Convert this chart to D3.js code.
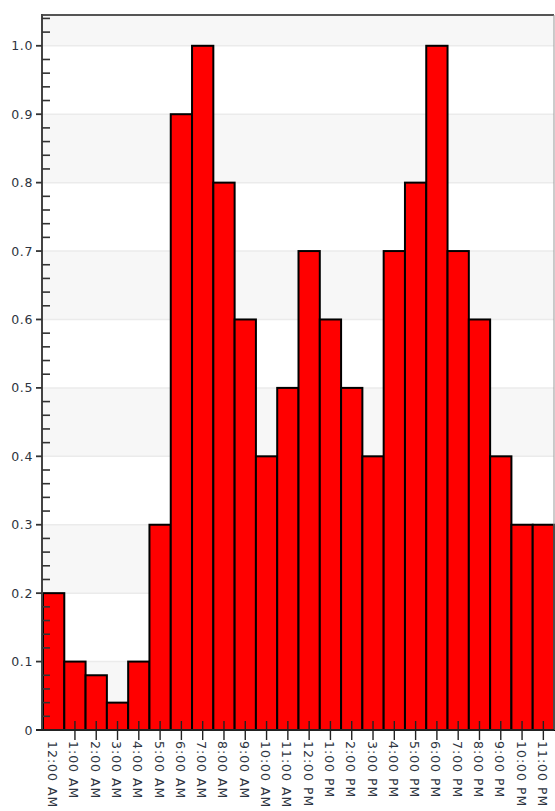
<!DOCTYPE html>
<html><head><meta charset="utf-8">
<script src="https://cdn.jsdelivr.net/npm/d3@7"></script>
<style>body{margin:0;background:#fff}svg{display:block}text{font-family:"DejaVu Sans",Verdana,sans-serif}</style>
</head><body><svg id="c" width="555" height="811"></svg>
<script>
const categories = ["12:00 AM","1:00 AM","2:00 AM","3:00 AM","4:00 AM","5:00 AM","6:00 AM","7:00 AM","8:00 AM","9:00 AM","10:00 AM","11:00 AM","12:00 PM","1:00 PM","2:00 PM","3:00 PM","4:00 PM","5:00 PM","6:00 PM","7:00 PM","8:00 PM","9:00 PM","10:00 PM","11:00 PM"];
const values = [0.2,0.1,0.08,0.04,0.1,0.3,0.9,1.0,0.8,0.6,0.4,0.5,0.7,0.6,0.5,0.4,0.7,0.8,1.0,0.7,0.6,0.4,0.3,0.3];
const yTicks = [0,0.1,0.2,0.3,0.4,0.5,0.6,0.7,0.8,0.9,1.0];
const yTickLabels = ["0","0.1","0.2","0.3","0.4","0.5","0.6","0.7","0.8","0.9","1.0"];

const L=42, R=554, T=15, B=730;
const svg = d3.select("#c");
const x = d3.scaleBand().domain(categories).range([L,R-1]).padding(0);
const y = d3.scaleLinear().domain([0,1.045]).range([B,T]);

// alternating bands
const bandEdges = yTicks.concat([1.045]);
for(let i=0;i<bandEdges.length-1;i++){
  const gray = (i%2===0);
  svg.append("rect").attr("x",L).attr("width",R-L)
    .attr("y",y(bandEdges[i+1])).attr("height",y(bandEdges[i])-y(bandEdges[i+1]))
    .attr("fill",gray?"#f7f7f7":"#ffffff");
}
// gridlines
svg.append("g").selectAll("line").data(yTicks.slice(1)).join("line")
  .attr("x1",L).attr("x2",R).attr("y1",d=>y(d)).attr("y2",d=>y(d))
  .attr("stroke","#ebebeb").attr("stroke-width",1.5);

// bars
svg.append("g").selectAll("rect").data(values).join("rect")
  .attr("x",(d,i)=>x(categories[i])+1).attr("width",x.bandwidth())
  .attr("y",d=>y(d)).attr("height",d=>y(0)-y(d))
  .attr("fill","#ff0000").attr("stroke","#000").attr("stroke-width",2);

// frame
svg.append("line").attr("x1",L).attr("x2",R).attr("y1",T).attr("y2",T).attr("stroke","#555").attr("stroke-width",2);
svg.append("line").attr("x1",R).attr("x2",R).attr("y1",T).attr("y2",B).attr("stroke","#999").attr("stroke-width",1);

// y axis
const yAxis = svg.append("g").attr("transform",`translate(${L},0)`);
yAxis.append("line").attr("x1",0).attr("x2",0).attr("y1",T-1).attr("y2",B).attr("stroke","#444").attr("stroke-width",2);
const minor = d3.range(0,1.045,0.02).filter(v=>Math.abs(Math.round(v*10)-v*10)>1e-6);
yAxis.selectAll("line.minor").data(minor).join("line").attr("class","minor")
  .attr("x1",0).attr("x2",8).attr("y1",d=>y(d)).attr("y2",d=>y(d)).attr("stroke","#333").attr("stroke-width",1.6);
yAxis.selectAll("line.major").data(yTicks).join("line").attr("class","major")
  .attr("x1",-6).attr("x2",0).attr("y1",d=>y(d)).attr("y2",d=>y(d)).attr("stroke","#333").attr("stroke-width",1.8);
yAxis.selectAll("text").data(yTicks).join("text")
  .attr("x",-9).attr("y",d=>y(d)).attr("dy","0.36em").attr("text-anchor","end")
  .attr("font-size",12.5).attr("letter-spacing","0.6px").attr("fill","#2d3440").text((d,i)=>yTickLabels[i]);

// x axis
const xAxis = svg.append("g");
xAxis.append("line").attr("x1",L-6).attr("x2",R).attr("y1",B).attr("y2",B).attr("stroke","#222").attr("stroke-width",2);
xAxis.selectAll("line.t").data(categories.slice(1)).join("line").attr("class","t")
  .attr("x1",d=>x(d)+x.bandwidth()/2+1).attr("x2",d=>x(d)+x.bandwidth()/2+1)
  .attr("y1",B-9).attr("y2",B+10).attr("stroke","#222").attr("stroke-width",1.4);
xAxis.selectAll("text").data(categories).join("text")
  .attr("transform",d=>`translate(${x(d)+x.bandwidth()/2},${B+11}) rotate(90)`)
  .attr("dy","0.36em").attr("font-size",12.5).attr("letter-spacing","1px").attr("fill","#2d3440").text(d=>d);
</script></body></html>
